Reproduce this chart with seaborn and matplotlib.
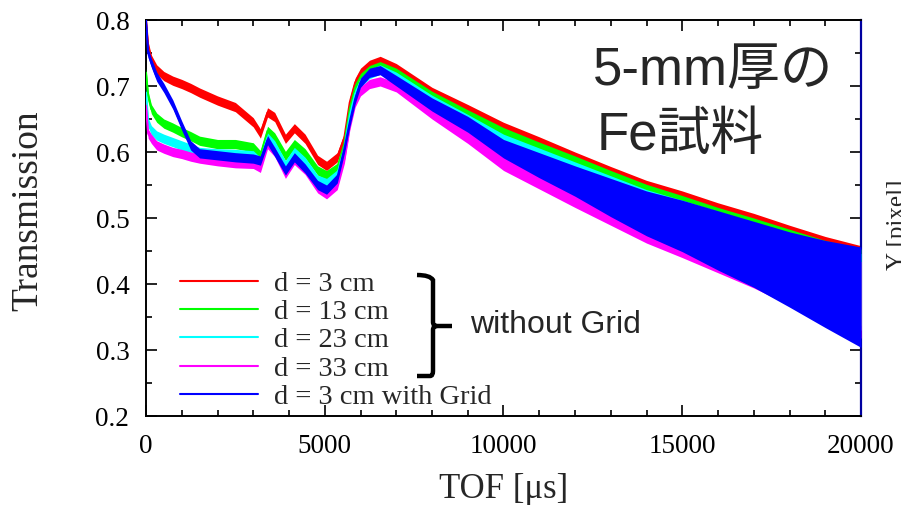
import numpy as np
import pandas as pd
import seaborn as sns
import matplotlib
matplotlib.use("Agg")
import matplotlib.pyplot as plt
from matplotlib.path import Path
from matplotlib.patches import PathPatch

# TOF sample points [us]
tof = [0, 60, 150, 300, 500, 750, 1000, 1250, 1500, 2000, 2500, 3000, 3200, 3400,
       3600, 3900, 4150, 4450, 4800, 5050, 5350, 5550, 5700, 5850, 6000, 6250, 6550,
       7000, 8000, 9000, 10000, 11000, 12000, 13000, 14000, 15000, 16000, 17000,
       18000, 19000, 20000]

# band centres
t_3cm = [0.80, 0.76, 0.74, 0.725, 0.715, 0.708, 0.703, 0.697, 0.69, 0.678, 0.668, 0.645,
         0.628, 0.66, 0.653, 0.62, 0.636, 0.62, 0.588, 0.579, 0.592, 0.622, 0.675, 0.705,
         0.72, 0.732, 0.738, 0.727, 0.688, 0.66, 0.63, 0.605, 0.578, 0.552, 0.527, 0.507,
         0.485, 0.465, 0.442, 0.42, 0.40]
t_13cm = [0.72, 0.685, 0.665, 0.652, 0.643, 0.637, 0.63, 0.624, 0.617, 0.612, 0.612, 0.607,
          0.595, 0.632, 0.622, 0.594, 0.612, 0.598, 0.572, 0.565, 0.576, 0.612, 0.665, 0.697,
          0.712, 0.724, 0.73, 0.72, 0.682, 0.652, 0.622, 0.597, 0.572, 0.546, 0.521, 0.5,
          0.478, 0.458, 0.436, 0.414, 0.395]
t_23cm = [0.69, 0.645, 0.633, 0.625, 0.62, 0.615, 0.61, 0.605, 0.60, 0.598, 0.597, 0.595,
          0.585, 0.622, 0.61, 0.58, 0.60, 0.585, 0.558, 0.553, 0.566, 0.605, 0.655, 0.688,
          0.705, 0.718, 0.725, 0.714, 0.676, 0.645, 0.612, 0.588, 0.563, 0.538, 0.513, 0.493,
          0.472, 0.452, 0.43, 0.408, 0.388]
t_33cm = [0.67, 0.628, 0.62, 0.61, 0.605, 0.60, 0.597, 0.593, 0.59, 0.586, 0.583, 0.582,
          0.576, 0.612, 0.60, 0.567, 0.588, 0.573, 0.545, 0.536, 0.55, 0.59, 0.64, 0.675,
          0.692, 0.703, 0.707, 0.698, 0.66, 0.625, 0.587, 0.562, 0.538, 0.515, 0.492, 0.474,
          0.455, 0.436, 0.415, 0.395, 0.376]
t_grid = [0.80, 0.75, 0.735, 0.714, 0.697, 0.672, 0.64, 0.61, 0.598, 0.595, 0.592, 0.59,
          0.587, 0.618, 0.60, 0.572, 0.592, 0.575, 0.55, 0.543, 0.56, 0.605, 0.645, 0.68,
          0.705, 0.72, 0.724, 0.708, 0.672, 0.642, 0.605, 0.58, 0.556, 0.531, 0.507, 0.488,
          0.466, 0.445, 0.422, 0.40, 0.38]

# half width of the noisy band
spread = [0.007] * 28 + [0.010, 0.012, 0.015, 0.018, 0.022, 0.026, 0.030, 0.034,
                         0.038, 0.042, 0.047, 0.052, 0.058]
spread_grid = [0.007] * 27 + [0.008, 0.010, 0.012, 0.014, 0.019, 0.023, 0.029, 0.034,
                              0.039, 0.045, 0.050, 0.057, 0.066, 0.076]

labels = ["d = 3 cm", "d = 13 cm", "d = 23 cm", "d = 33 cm", "d = 3 cm with Grid"]
colors = ["#ff0000", "#00ff00", "#00ffff", "#ff00ff", "#0000ff"]
series = [t_3cm, t_13cm, t_23cm, t_33cm, t_grid]
spreads = [spread, spread, spread, spread, spread_grid]

sns.set_theme(style="ticks")
plt.rcParams["font.family"] = ["Liberation Serif", "DejaVu Serif"]

fig = plt.figure(figsize=(9.01, 5.05), dpi=100)
ax = fig.add_axes([146 / 901, 89 / 505, 715 / 901, 396 / 505])

x = np.array(tof, dtype=float)
for i, (vals, sp, col, lab) in enumerate(zip(series, spreads, colors, labels)):
    v = np.array(vals)
    s = np.array(sp)
    ax.fill_between(x, v - s, v + s, color=col, lw=0, zorder=2 + 2 * i)
    sns.lineplot(x=x, y=v, color=col, lw=1.5, label=lab, ax=ax, sort=False,
                 zorder=3 + 2 * i)

ax.set_xlim(0, 20000)
ax.set_ylim(0.2, 0.8)
ax.set_xticks([0, 5000, 10000, 15000, 20000])
ax.set_xticks(np.arange(0, 20001, 1000), minor=True)
ax.set_yticks([0.2, 0.3, 0.4, 0.5, 0.6, 0.7, 0.8])
ax.set_yticks(np.arange(0.2, 0.81, 0.05), minor=True)
ax.set_yticklabels(["0.2", "0.3", "0.4", "0.5", "0.6", "0.7", "0.8"])
ax.tick_params(which="both", direction="in", top=True, right=True, labelsize=19.5,
               width=1.2, colors="black")
ax.tick_params(which="major", length=8)
ax.tick_params(which="minor", length=4)
ax.tick_params(axis="x", pad=13)
ax.tick_params(axis="y", pad=12)
for sp_name in ["left", "bottom", "top"]:
    ax.spines[sp_name].set_linewidth(1.4)
    ax.spines[sp_name].set_color("black")
ax.spines["right"].set_linewidth(1.6)
ax.spines["right"].set_color("#0000a0")

ax.set_xlabel("TOF [μs]", fontsize=25)
ax.set_ylabel("Transmission", fontsize=27)
ax.xaxis.set_label_coords(0.5, -0.145)
ax.yaxis.set_label_coords(-0.141, 0.518)

leg = ax.legend(loc="upper left", bbox_to_anchor=(0.047, 0.366), frameon=False,
                fontsize=20.5, handlelength=2.75, handletextpad=0.55, labelspacing=0.08,
                borderpad=0, borderaxespad=0)
for line in leg.get_lines():
    line.set_linewidth(1.5)

sans = ["Liberation Sans", "Noto Sans CJK JP", "DejaVu Sans"]
ax.text(0.625, 0.836, "5-mm厚の", transform=ax.transAxes, fontsize=38, family=sans,
        va="baseline", ha="left")
ax.text(0.630, 0.672, "Fe試料", transform=ax.transAxes, fontsize=38, family=sans,
        va="baseline", ha="left")
ax.text(0.453, 0.23, "without Grid", transform=ax.transAxes, fontsize=23, family=sans,
        va="center", ha="left")

# curly brace grouping the first four entries (figure pixel coords)
def px(xp, yp):
    return ((xp - 146) / 715, (416 - yp) / 396)

verts = [px(417, 275), px(430, 275), px(433, 280), px(433, 280),
         px(433, 322), px(433, 326), px(437, 326), px(452, 326),
         px(437, 326), px(433, 326), px(433, 330),
         px(433, 371), px(433, 376), px(430, 376), px(417, 376)]
codes = [Path.MOVETO, Path.CURVE3, Path.CURVE3, Path.LINETO,
         Path.LINETO, Path.CURVE3, Path.CURVE3, Path.LINETO,
         Path.MOVETO, Path.CURVE3, Path.CURVE3,
         Path.LINETO, Path.CURVE3, Path.CURVE3, Path.LINETO]
brace = PathPatch(Path(verts, codes), transform=ax.transAxes, fill=False, lw=3.2,
                  color="black", clip_on=False, capstyle="butt", zorder=20)
ax.add_patch(brace)

# label of the neighbouring panel, cut by the right edge as in the original
fig.text(0.985, 0.555, "Y [pixel]", rotation=90, fontsize=18, ha="left", va="center")

fig.savefig("out.png", dpi=100)
